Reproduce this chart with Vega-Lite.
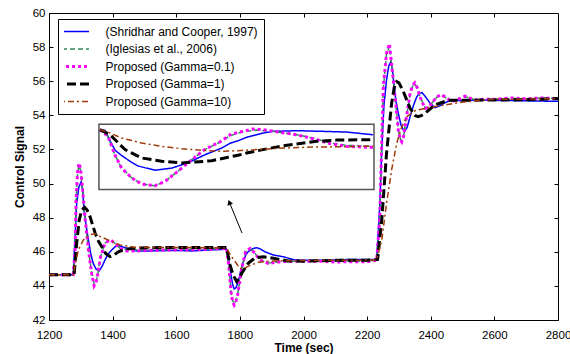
{
"$schema": "https://vega.github.io/schema/vega-lite/v6.json",
"width": 509, "height": 307, "autosize": "none",
"padding": {"left": 49, "top": 13, "right": 12, "bottom": 34},
"background": "white",
"config": {
  "view": {"stroke": "black", "strokeWidth": 1},
  "font": "Liberation Sans",
  "axis": {"labelFont": "Liberation Sans", "labelFontSize": 11.5, "labelColor": "black", "domainColor": "black", "domainWidth": 1, "tickColor": "black", "tickSize": -4, "tickWidth": 1, "grid": false, "titleFont": "Liberation Sans", "titleFontSize": 12, "titleFontWeight": "bold", "titleColor": "black", "labelFlush": false, "labelOverlap": false},
  "legend": {"orient": "none", "legendX": 9, "legendY": 6, "padding": 6, "strokeColor": "black", "fillColor": "white", "cornerRadius": 0, "symbolSize": 1225, "clipHeight": 13, "rowPadding": 4.5, "symbolOffset": 1.5, "labelOffset": 28, "labelFont": "Liberation Sans", "labelFontSize": 12, "labelColor": "black", "labelLimit": 400, "symbolType": "stroke"}
},
"datasets": {
  "names": [
    {"s": "a", "name": "(Shridhar and Cooper, 1997)"},
    {"s": "b", "name": "(Iglesias et al., 2006)"},
    {"s": "c", "name": "Proposed (Gamma=0.1)"},
    {"s": "d", "name": "Proposed (Gamma=1)"},
    {"s": "e", "name": "Proposed (Gamma=10)"}
  ],
  "box": [{"x1": 1357, "x2": 2221.6, "y1": 53.47, "y2": 49.65}],
  "arrow": [{"t": 1806.7, "v": 47.1, "t2": 1767, "v2": 48.9}],
  "lines": [
{"s":"a","p":"m","t":1200,"v":44.65},{"s":"a","p":"m","t":1276,"v":44.65},{"s":"a","p":"m","t":1281,"v":46.5},{"s":"a","p":"m","t":1287,"v":48.84},{"s":"a","p":"m","t":1294,"v":49.8},{"s":"a","p":"m","t":1301,"v":50.1},{"s":"a","p":"m","t":1306,"v":49.6},{"s":"a","p":"m","t":1310,"v":48.45},{"s":"a","p":"m","t":1317,"v":47.5},{"s":"a","p":"m","t":1324,"v":46.69},{"s":"a","p":"m","t":1331,"v":45.9},{"s":"a","p":"m","t":1339,"v":45.32},{"s":"a","p":"m","t":1348,"v":44.98},{"s":"a","p":"m","t":1358,"v":44.89},{"s":"a","p":"m","t":1367,"v":45.15},{"s":"a","p":"m","t":1376,"v":45.52},{"s":"a","p":"m","t":1387,"v":45.9},{"s":"a","p":"m","t":1397,"v":46.1},{"s":"a","p":"m","t":1408,"v":46.3},{"s":"a","p":"m","t":1418,"v":46.36},{"s":"a","p":"m","t":1430,"v":46.3},{"s":"a","p":"m","t":1444,"v":46.2},{"s":"a","p":"m","t":1476,"v":46.05},{"s":"a","p":"m","t":1520,"v":46.05},{"s":"a","p":"m","t":1600,"v":46.08},{"s":"a","p":"m","t":1650,"v":46.05},{"s":"a","p":"m","t":1700,"v":46.1},{"s":"a","p":"m","t":1758,"v":46.15},{"s":"a","p":"m","t":1764,"v":45.71},{"s":"a","p":"m","t":1772,"v":44.64},{"s":"a","p":"m","t":1777,"v":44.1},{"s":"a","p":"m","t":1782,"v":43.82},{"s":"a","p":"m","t":1788,"v":43.9},{"s":"a","p":"m","t":1795,"v":44.25},{"s":"a","p":"m","t":1803,"v":44.9},{"s":"a","p":"m","t":1811,"v":45.42},{"s":"a","p":"m","t":1818,"v":45.8},{"s":"a","p":"m","t":1826,"v":46.0},{"s":"a","p":"m","t":1840,"v":46.18},{"s":"a","p":"m","t":1853,"v":46.24},{"s":"a","p":"m","t":1866,"v":46.15},{"s":"a","p":"m","t":1879,"v":46.0},{"s":"a","p":"m","t":1905,"v":45.81},{"s":"a","p":"m","t":1936,"v":45.71},{"s":"a","p":"m","t":1973,"v":45.52},{"s":"a","p":"m","t":2000,"v":45.5},{"s":"a","p":"m","t":2050,"v":45.5},{"s":"a","p":"m","t":2100,"v":45.52},{"s":"a","p":"m","t":2150,"v":45.55},{"s":"a","p":"m","t":2200,"v":45.55},{"s":"a","p":"m","t":2230,"v":45.55},{"s":"a","p":"m","t":2240,"v":48.8},{"s":"a","p":"m","t":2246,"v":52.0},{"s":"a","p":"m","t":2253,"v":54.6},{"s":"a","p":"m","t":2261,"v":56.07},{"s":"a","p":"m","t":2268,"v":56.9},{"s":"a","p":"m","t":2275,"v":57.15},{"s":"a","p":"m","t":2280,"v":56.6},{"s":"a","p":"m","t":2285,"v":55.68},{"s":"a","p":"m","t":2291,"v":54.8},{"s":"a","p":"m","t":2298,"v":54.12},{"s":"a","p":"m","t":2307,"v":53.4},{"s":"a","p":"m","t":2317,"v":53.04},{"s":"a","p":"m","t":2326,"v":53.3},{"s":"a","p":"m","t":2335,"v":53.92},{"s":"a","p":"m","t":2346,"v":54.6},{"s":"a","p":"m","t":2356,"v":55.09},{"s":"a","p":"m","t":2364,"v":55.28},{"s":"a","p":"m","t":2373,"v":55.33},{"s":"a","p":"m","t":2385,"v":55.05},{"s":"a","p":"m","t":2398,"v":54.71},{"s":"a","p":"m","t":2413,"v":54.45},{"s":"a","p":"m","t":2428,"v":54.55},{"s":"a","p":"m","t":2445,"v":54.74},{"s":"a","p":"m","t":2460,"v":54.85},{"s":"a","p":"m","t":2476,"v":54.88},{"s":"a","p":"m","t":2500,"v":54.85},{"s":"a","p":"m","t":2550,"v":54.9},{"s":"a","p":"m","t":2600,"v":54.88},{"s":"a","p":"m","t":2700,"v":54.85},{"s":"a","p":"m","t":2800,"v":54.82},
{"s":"b","p":"m","t":1200,"v":44.65},{"s":"b","p":"m","t":1276,"v":44.65},{"s":"b","p":"m","t":1282,"v":46.1},{"s":"b","p":"m","t":1285,"v":49.0},{"s":"b","p":"m","t":1290,"v":50.6},{"s":"b","p":"m","t":1294,"v":51.05},{"s":"b","p":"m","t":1299,"v":50.8},{"s":"b","p":"m","t":1304,"v":50.0},{"s":"b","p":"m","t":1313,"v":48.06},{"s":"b","p":"m","t":1324,"v":46.1},{"s":"b","p":"m","t":1334,"v":44.8},{"s":"b","p":"m","t":1342,"v":44.1},{"s":"b","p":"m","t":1347,"v":44.2},{"s":"b","p":"m","t":1352,"v":44.54},{"s":"b","p":"m","t":1362,"v":45.71},{"s":"b","p":"m","t":1376,"v":46.5},{"s":"b","p":"m","t":1392,"v":46.7},{"s":"b","p":"m","t":1407,"v":46.5},{"s":"b","p":"m","t":1423,"v":46.2},{"s":"b","p":"m","t":1444,"v":46.1},{"s":"b","p":"m","t":1476,"v":46.1},{"s":"b","p":"m","t":1550,"v":46.12},{"s":"b","p":"m","t":1650,"v":46.15},{"s":"b","p":"m","t":1700,"v":46.15},{"s":"b","p":"m","t":1758,"v":46.2},{"s":"b","p":"m","t":1766,"v":45.03},{"s":"b","p":"m","t":1772,"v":43.7},{"s":"b","p":"m","t":1777,"v":43.15},{"s":"b","p":"m","t":1782,"v":42.95},{"s":"b","p":"m","t":1787,"v":43.1},{"s":"b","p":"m","t":1793,"v":43.5},{"s":"b","p":"m","t":1806,"v":45.03},{"s":"b","p":"m","t":1818,"v":46.0},{"s":"b","p":"m","t":1832,"v":46.18},{"s":"b","p":"m","t":1848,"v":45.9},{"s":"b","p":"m","t":1863,"v":45.52},{"s":"b","p":"m","t":1889,"v":45.34},{"s":"b","p":"m","t":1931,"v":45.42},{"s":"b","p":"m","t":1980,"v":45.45},{"s":"b","p":"m","t":2050,"v":45.45},{"s":"b","p":"m","t":2100,"v":45.45},{"s":"b","p":"m","t":2150,"v":45.45},{"s":"b","p":"m","t":2200,"v":45.45},{"s":"b","p":"m","t":2230,"v":45.5},{"s":"b","p":"m","t":2240,"v":48.0},{"s":"b","p":"m","t":2245,"v":51.8},{"s":"b","p":"m","t":2251,"v":55.6},{"s":"b","p":"m","t":2261,"v":57.6},{"s":"b","p":"m","t":2270,"v":58.05},{"s":"b","p":"m","t":2279,"v":56.66},{"s":"b","p":"m","t":2290,"v":54.71},{"s":"b","p":"m","t":2298,"v":53.14},{"s":"b","p":"m","t":2304,"v":52.65},{"s":"b","p":"m","t":2309,"v":52.5},{"s":"b","p":"m","t":2314,"v":52.72},{"s":"b","p":"m","t":2319,"v":53.33},{"s":"b","p":"m","t":2335,"v":55.25},{"s":"b","p":"m","t":2343,"v":55.7},{"s":"b","p":"m","t":2350,"v":55.85},{"s":"b","p":"m","t":2358,"v":55.6},{"s":"b","p":"m","t":2366,"v":55.09},{"s":"b","p":"m","t":2382,"v":54.45},{"s":"b","p":"m","t":2393,"v":54.48},{"s":"b","p":"m","t":2403,"v":54.71},{"s":"b","p":"m","t":2420,"v":55.08},{"s":"b","p":"m","t":2434,"v":55.2},{"s":"b","p":"m","t":2450,"v":55.0},{"s":"b","p":"m","t":2466,"v":54.82},{"s":"b","p":"m","t":2487,"v":54.95},{"s":"b","p":"m","t":2508,"v":55.1},{"s":"b","p":"m","t":2525,"v":55.0},{"s":"b","p":"m","t":2539,"v":54.92},{"s":"b","p":"m","t":2570,"v":54.95},{"s":"b","p":"m","t":2602,"v":54.95},{"s":"b","p":"m","t":2650,"v":55.0},{"s":"b","p":"m","t":2700,"v":54.96},{"s":"b","p":"m","t":2750,"v":55.02},{"s":"b","p":"m","t":2800,"v":55.0},
{"s":"c","p":"m","t":1200,"v":44.65},{"s":"c","p":"m","t":1276,"v":44.65},{"s":"c","p":"m","t":1282,"v":46.1},{"s":"c","p":"m","t":1285,"v":49.0},{"s":"c","p":"m","t":1290,"v":50.7},{"s":"c","p":"m","t":1294,"v":51.2},{"s":"c","p":"m","t":1299,"v":50.9},{"s":"c","p":"m","t":1304,"v":50.0},{"s":"c","p":"m","t":1313,"v":48.06},{"s":"c","p":"m","t":1324,"v":46.1},{"s":"c","p":"m","t":1334,"v":44.74},{"s":"c","p":"m","t":1342,"v":44.0},{"s":"c","p":"m","t":1347,"v":44.15},{"s":"c","p":"m","t":1352,"v":44.54},{"s":"c","p":"m","t":1362,"v":45.71},{"s":"c","p":"m","t":1376,"v":46.5},{"s":"c","p":"m","t":1392,"v":46.72},{"s":"c","p":"m","t":1407,"v":46.5},{"s":"c","p":"m","t":1423,"v":46.2},{"s":"c","p":"m","t":1444,"v":46.05},{"s":"c","p":"m","t":1476,"v":46.05},{"s":"c","p":"m","t":1550,"v":46.1},{"s":"c","p":"m","t":1650,"v":46.12},{"s":"c","p":"m","t":1700,"v":46.15},{"s":"c","p":"m","t":1758,"v":46.2},{"s":"c","p":"m","t":1766,"v":45.03},{"s":"c","p":"m","t":1772,"v":43.66},{"s":"c","p":"m","t":1777,"v":43.1},{"s":"c","p":"m","t":1782,"v":42.88},{"s":"c","p":"m","t":1787,"v":43.05},{"s":"c","p":"m","t":1793,"v":43.47},{"s":"c","p":"m","t":1806,"v":45.03},{"s":"c","p":"m","t":1818,"v":46.0},{"s":"c","p":"m","t":1832,"v":46.2},{"s":"c","p":"m","t":1848,"v":45.9},{"s":"c","p":"m","t":1863,"v":45.52},{"s":"c","p":"m","t":1889,"v":45.32},{"s":"c","p":"m","t":1931,"v":45.42},{"s":"c","p":"m","t":1980,"v":45.45},{"s":"c","p":"m","t":2050,"v":45.45},{"s":"c","p":"m","t":2100,"v":45.4},{"s":"c","p":"m","t":2150,"v":45.42},{"s":"c","p":"m","t":2200,"v":45.42},{"s":"c","p":"m","t":2230,"v":45.5},{"s":"c","p":"m","t":2240,"v":48.0},{"s":"c","p":"m","t":2245,"v":51.8},{"s":"c","p":"m","t":2251,"v":55.68},{"s":"c","p":"m","t":2261,"v":57.64},{"s":"c","p":"m","t":2270,"v":58.2},{"s":"c","p":"m","t":2279,"v":56.66},{"s":"c","p":"m","t":2290,"v":54.71},{"s":"c","p":"m","t":2298,"v":53.14},{"s":"c","p":"m","t":2304,"v":52.6},{"s":"c","p":"m","t":2309,"v":52.45},{"s":"c","p":"m","t":2314,"v":52.7},{"s":"c","p":"m","t":2319,"v":53.33},{"s":"c","p":"m","t":2335,"v":55.29},{"s":"c","p":"m","t":2343,"v":55.75},{"s":"c","p":"m","t":2350,"v":55.9},{"s":"c","p":"m","t":2358,"v":55.6},{"s":"c","p":"m","t":2366,"v":55.09},{"s":"c","p":"m","t":2382,"v":54.41},{"s":"c","p":"m","t":2393,"v":54.45},{"s":"c","p":"m","t":2403,"v":54.71},{"s":"c","p":"m","t":2420,"v":55.1},{"s":"c","p":"m","t":2434,"v":55.22},{"s":"c","p":"m","t":2450,"v":55.0},{"s":"c","p":"m","t":2466,"v":54.8},{"s":"c","p":"m","t":2487,"v":54.95},{"s":"c","p":"m","t":2508,"v":55.13},{"s":"c","p":"m","t":2525,"v":55.0},{"s":"c","p":"m","t":2539,"v":54.9},{"s":"c","p":"m","t":2570,"v":54.95},{"s":"c","p":"m","t":2602,"v":54.94},{"s":"c","p":"m","t":2650,"v":55.02},{"s":"c","p":"m","t":2700,"v":54.97},{"s":"c","p":"m","t":2750,"v":55.02},{"s":"c","p":"m","t":2800,"v":54.98},
{"s":"d","p":"m","t":1200,"v":44.65},{"s":"d","p":"m","t":1279,"v":44.65},{"s":"d","p":"m","t":1287,"v":46.5},{"s":"d","p":"m","t":1295,"v":47.86},{"s":"d","p":"m","t":1303,"v":48.45},{"s":"d","p":"m","t":1312,"v":48.6},{"s":"d","p":"m","t":1320,"v":48.45},{"s":"d","p":"m","t":1329,"v":48.06},{"s":"d","p":"m","t":1345,"v":47.1},{"s":"d","p":"m","t":1356,"v":46.6},{"s":"d","p":"m","t":1366,"v":46.3},{"s":"d","p":"m","t":1378,"v":45.9},{"s":"d","p":"m","t":1392,"v":45.72},{"s":"d","p":"m","t":1405,"v":45.82},{"s":"d","p":"m","t":1418,"v":46.0},{"s":"d","p":"m","t":1444,"v":46.17},{"s":"d","p":"m","t":1486,"v":46.22},{"s":"d","p":"m","t":1550,"v":46.25},{"s":"d","p":"m","t":1650,"v":46.25},{"s":"d","p":"m","t":1758,"v":46.25},{"s":"d","p":"m","t":1769,"v":45.23},{"s":"d","p":"m","t":1779,"v":44.64},{"s":"d","p":"m","t":1790,"v":44.25},{"s":"d","p":"m","t":1797,"v":44.4},{"s":"d","p":"m","t":1806,"v":44.74},{"s":"d","p":"m","t":1826,"v":45.32},{"s":"d","p":"m","t":1848,"v":45.65},{"s":"d","p":"m","t":1874,"v":45.71},{"s":"d","p":"m","t":1905,"v":45.62},{"s":"d","p":"m","t":1952,"v":45.46},{"s":"d","p":"m","t":2000,"v":45.45},{"s":"d","p":"m","t":2100,"v":45.5},{"s":"d","p":"m","t":2200,"v":45.5},{"s":"d","p":"m","t":2233,"v":45.55},{"s":"d","p":"m","t":2246,"v":47.86},{"s":"d","p":"m","t":2261,"v":51.77},{"s":"d","p":"m","t":2277,"v":54.71},{"s":"d","p":"m","t":2285,"v":55.6},{"s":"d","p":"m","t":2293,"v":55.97},{"s":"d","p":"m","t":2300,"v":55.9},{"s":"d","p":"m","t":2314,"v":55.39},{"s":"d","p":"m","t":2335,"v":54.41},{"s":"d","p":"m","t":2350,"v":54.0},{"s":"d","p":"m","t":2360,"v":53.92},{"s":"d","p":"m","t":2370,"v":53.98},{"s":"d","p":"m","t":2382,"v":54.12},{"s":"d","p":"m","t":2413,"v":54.61},{"s":"d","p":"m","t":2455,"v":54.88},{"s":"d","p":"m","t":2500,"v":54.88},{"s":"d","p":"m","t":2600,"v":54.9},{"s":"d","p":"m","t":2700,"v":54.92},{"s":"d","p":"m","t":2800,"v":54.98},
{"s":"e","p":"m","t":1200,"v":44.65},{"s":"e","p":"m","t":1276,"v":44.65},{"s":"e","p":"m","t":1292,"v":46.1},{"s":"e","p":"m","t":1308,"v":46.69},{"s":"e","p":"m","t":1329,"v":47.0},{"s":"e","p":"m","t":1345,"v":47.06},{"s":"e","p":"m","t":1360,"v":46.9},{"s":"e","p":"m","t":1392,"v":46.65},{"s":"e","p":"m","t":1423,"v":46.4},{"s":"e","p":"m","t":1476,"v":46.25},{"s":"e","p":"m","t":1550,"v":46.25},{"s":"e","p":"m","t":1650,"v":46.25},{"s":"e","p":"m","t":1758,"v":46.22},{"s":"e","p":"m","t":1774,"v":45.71},{"s":"e","p":"m","t":1790,"v":45.3},{"s":"e","p":"m","t":1800,"v":45.02},{"s":"e","p":"m","t":1815,"v":45.05},{"s":"e","p":"m","t":1832,"v":45.2},{"s":"e","p":"m","t":1858,"v":45.38},{"s":"e","p":"m","t":1895,"v":45.46},{"s":"e","p":"m","t":1950,"v":45.47},{"s":"e","p":"m","t":2050,"v":45.5},{"s":"e","p":"m","t":2150,"v":45.5},{"s":"e","p":"m","t":2230,"v":45.52},{"s":"e","p":"m","t":2246,"v":46.69},{"s":"e","p":"m","t":2261,"v":48.84},{"s":"e","p":"m","t":2277,"v":50.8},{"s":"e","p":"m","t":2293,"v":52.36},{"s":"e","p":"m","t":2309,"v":53.33},{"s":"e","p":"m","t":2325,"v":53.92},{"s":"e","p":"m","t":2350,"v":54.27},{"s":"e","p":"m","t":2382,"v":54.41},{"s":"e","p":"m","t":2424,"v":54.55},{"s":"e","p":"m","t":2476,"v":54.71},{"s":"e","p":"m","t":2539,"v":54.86},{"s":"e","p":"m","t":2602,"v":54.94},{"s":"e","p":"m","t":2700,"v":54.95},{"s":"e","p":"m","t":2800,"v":54.98},
{"s":"a","p":"i","t":1360,"v":53.16},{"s":"a","p":"i","t":1376,"v":53.12},{"s":"a","p":"i","t":1392,"v":52.5},{"s":"a","p":"i","t":1408,"v":51.95},{"s":"a","p":"i","t":1428,"v":51.65},{"s":"a","p":"i","t":1455,"v":51.3},{"s":"a","p":"i","t":1480,"v":51.03},{"s":"a","p":"i","t":1533,"v":50.78},{"s":"a","p":"i","t":1586,"v":50.91},{"s":"a","p":"i","t":1637,"v":51.21},{"s":"a","p":"i","t":1690,"v":51.69},{"s":"a","p":"i","t":1743,"v":52.08},{"s":"a","p":"i","t":1769,"v":52.36},{"s":"a","p":"i","t":1794,"v":52.51},{"s":"a","p":"i","t":1821,"v":52.71},{"s":"a","p":"i","t":1873,"v":52.96},{"s":"a","p":"i","t":1904,"v":53.06},{"s":"a","p":"i","t":1979,"v":53.1},{"s":"a","p":"i","t":2061,"v":53.06},{"s":"a","p":"i","t":2136,"v":53.02},{"s":"a","p":"i","t":2218,"v":52.86},
{"s":"b","p":"i","t":1360,"v":53.16},{"s":"b","p":"i","t":1385,"v":52.79},{"s":"b","p":"i","t":1407,"v":51.69},{"s":"b","p":"i","t":1428,"v":50.91},{"s":"b","p":"i","t":1460,"v":50.33},{"s":"b","p":"i","t":1491,"v":49.97},{"s":"b","p":"i","t":1533,"v":49.87},{"s":"b","p":"i","t":1565,"v":50.13},{"s":"b","p":"i","t":1605,"v":50.72},{"s":"b","p":"i","t":1649,"v":51.4},{"s":"b","p":"i","t":1690,"v":51.99},{"s":"b","p":"i","t":1743,"v":52.48},{"s":"b","p":"i","t":1769,"v":52.8},{"s":"b","p":"i","t":1794,"v":52.96},{"s":"b","p":"i","t":1810,"v":53.04},{"s":"b","p":"i","t":1853,"v":53.14},{"s":"b","p":"i","t":1904,"v":53.06},{"s":"b","p":"i","t":1979,"v":52.86},{"s":"b","p":"i","t":2041,"v":52.62},{"s":"b","p":"i","t":2083,"v":52.38},{"s":"b","p":"i","t":2136,"v":52.24},{"s":"b","p":"i","t":2218,"v":52.18},
{"s":"c","p":"i","t":1360,"v":53.16},{"s":"c","p":"i","t":1385,"v":52.79},{"s":"c","p":"i","t":1407,"v":51.69},{"s":"c","p":"i","t":1428,"v":50.91},{"s":"c","p":"i","t":1460,"v":50.33},{"s":"c","p":"i","t":1491,"v":49.97},{"s":"c","p":"i","t":1533,"v":49.87},{"s":"c","p":"i","t":1565,"v":50.13},{"s":"c","p":"i","t":1605,"v":50.72},{"s":"c","p":"i","t":1649,"v":51.4},{"s":"c","p":"i","t":1690,"v":52.0},{"s":"c","p":"i","t":1743,"v":52.5},{"s":"c","p":"i","t":1769,"v":52.86},{"s":"c","p":"i","t":1794,"v":53.0},{"s":"c","p":"i","t":1841,"v":53.2},{"s":"c","p":"i","t":1880,"v":53.14},{"s":"c","p":"i","t":1979,"v":52.86},{"s":"c","p":"i","t":2041,"v":52.58},{"s":"c","p":"i","t":2083,"v":52.34},{"s":"c","p":"i","t":2136,"v":52.18},{"s":"c","p":"i","t":2218,"v":52.12},
{"s":"d","p":"i","t":1360,"v":53.16},{"s":"d","p":"i","t":1392,"v":52.86},{"s":"d","p":"i","t":1439,"v":51.99},{"s":"d","p":"i","t":1491,"v":51.5},{"s":"d","p":"i","t":1554,"v":51.31},{"s":"d","p":"i","t":1617,"v":51.21},{"s":"d","p":"i","t":1659,"v":51.26},{"s":"d","p":"i","t":1711,"v":51.34},{"s":"d","p":"i","t":1763,"v":51.54},{"s":"d","p":"i","t":1794,"v":51.66},{"s":"d","p":"i","t":1821,"v":51.79},{"s":"d","p":"i","t":1873,"v":51.99},{"s":"d","p":"i","t":1926,"v":52.18},{"s":"d","p":"i","t":1979,"v":52.32},{"s":"d","p":"i","t":2041,"v":52.48},{"s":"d","p":"i","t":2104,"v":52.55},{"s":"d","p":"i","t":2218,"v":52.57},
{"s":"e","p":"i","t":1360,"v":53.16},{"s":"e","p":"i","t":1385,"v":53.02},{"s":"e","p":"i","t":1428,"v":52.67},{"s":"e","p":"i","t":1491,"v":52.38},{"s":"e","p":"i","t":1554,"v":52.18},{"s":"e","p":"i","t":1617,"v":52.04},{"s":"e","p":"i","t":1680,"v":51.95},{"s":"e","p":"i","t":1743,"v":51.89},{"s":"e","p":"i","t":1794,"v":51.93},{"s":"e","p":"i","t":1853,"v":51.99},{"s":"e","p":"i","t":1936,"v":52.08},{"s":"e","p":"i","t":2030,"v":52.14},{"s":"e","p":"i","t":2136,"v":52.16},{"s":"e","p":"i","t":2218,"v":52.2}
  ]
},
"layer": [
  {
    "data": {"name": "lines"},
    "transform": [
      {"filter": "datum.p == 'm'"},
      {"lookup": "s", "from": {"data": {"name": "names"}, "key": "s", "fields": ["name"]}}
    ],
    "mark": {"type": "line", "strokeCap": "butt"},
    "encoding": {
      "x": {"field": "t", "type": "quantitative", "scale": {"domain": [1200, 2800], "nice": false, "zero": false},
            "axis": {"orient": "bottom", "format": "d", "values": [1200, 1400, 1600, 1800, 2000, 2200, 2400, 2600, 2800], "title": "Time (sec)", "labelPadding": 13, "titlePadding": 2}},
      "y": {"field": "v", "type": "quantitative", "scale": {"domain": [42, 60], "nice": false, "zero": false},
            "axis": {"orient": "left", "values": [42, 44, 46, 48, 50, 52, 54, 56, 58, 60], "title": "Control Signal", "labelPadding": 8, "titlePadding": 6}},
      "color": {"field": "name", "type": "nominal",
                "scale": {"domain": ["(Shridhar and Cooper, 1997)", "(Iglesias et al., 2006)", "Proposed (Gamma=0.1)", "Proposed (Gamma=1)", "Proposed (Gamma=10)"],
                          "range": ["#0000ff", "#2e8b57", "#ff00ff", "#000000", "#a03c0a"]},
                "legend": {"title": null, "encode": {"symbols": {"update": {"strokeWidth": {"signal": "datum.value == 'Proposed (Gamma=0.1)' || datum.value == 'Proposed (Gamma=1)' ? 3 : 1.5"}}}}}},
      "strokeDash": {"field": "name", "type": "nominal",
                "scale": {"domain": ["(Shridhar and Cooper, 1997)", "(Iglesias et al., 2006)", "Proposed (Gamma=0.1)", "Proposed (Gamma=1)", "Proposed (Gamma=10)"],
                          "range": [[1, 0], [5, 3], [3, 3], [9, 4], [6, 3, 2, 3]]},
                "legend": {"title": null}},
      "strokeWidth": {"condition": {"test": "datum.s == 'c' || datum.s == 'd'", "value": 3}, "value": 1.5}
    }
  },
  {
    "data": {"name": "box"},
    "mark": {"type": "rect", "fill": "white", "stroke": "#555555", "strokeWidth": 1.5},
    "encoding": {
      "x": {"field": "x1", "type": "quantitative", "scale": {"domain": [1200, 2800], "nice": false, "zero": false}, "axis": null},
      "x2": {"field": "x2"},
      "y": {"field": "y1", "type": "quantitative", "scale": {"domain": [42, 60], "nice": false, "zero": false}, "axis": null},
      "y2": {"field": "y2"}
    }
  },
  {
    "data": {"name": "lines"},
    "transform": [
      {"filter": "datum.p == 'i'"},
      {"lookup": "s", "from": {"data": {"name": "names"}, "key": "s", "fields": ["name"]}}
    ],
    "mark": {"type": "line", "strokeCap": "butt"},
    "encoding": {
      "x": {"field": "t", "type": "quantitative", "scale": {"domain": [1200, 2800], "nice": false, "zero": false}, "axis": null},
      "y": {"field": "v", "type": "quantitative", "scale": {"domain": [42, 60], "nice": false, "zero": false}, "axis": null},
      "color": {"field": "name", "type": "nominal",
                "scale": {"domain": ["(Shridhar and Cooper, 1997)", "(Iglesias et al., 2006)", "Proposed (Gamma=0.1)", "Proposed (Gamma=1)", "Proposed (Gamma=10)"],
                          "range": ["#0000ff", "#2e8b57", "#ff00ff", "#000000", "#a03c0a"]},
                "legend": {"title": null, "encode": {"symbols": {"update": {"strokeWidth": {"signal": "datum.value == 'Proposed (Gamma=0.1)' || datum.value == 'Proposed (Gamma=1)' ? 3 : 1.5"}}}}}},
      "strokeDash": {"field": "name", "type": "nominal",
                "scale": {"domain": ["(Shridhar and Cooper, 1997)", "(Iglesias et al., 2006)", "Proposed (Gamma=0.1)", "Proposed (Gamma=1)", "Proposed (Gamma=10)"],
                          "range": [[1, 0], [5, 3], [3, 3], [9, 4], [6, 3, 2, 3]]},
                "legend": {"title": null}},
      "strokeWidth": {"condition": {"test": "datum.s == 'c' || datum.s == 'd'", "value": 3}, "value": 1.5}
    }
  },
  {
    "data": {"name": "arrow"},
    "mark": {"type": "rule", "color": "black", "strokeWidth": 1},
    "encoding": {
      "x": {"field": "t", "type": "quantitative", "scale": {"domain": [1200, 2800], "nice": false, "zero": false},
            "axis": {"orient": "top", "values": [1400, 1600, 1800, 2000, 2200, 2400, 2600], "labels": false, "title": null, "domain": false}},
      "x2": {"field": "t2"},
      "y": {"field": "v", "type": "quantitative", "scale": {"domain": [42, 60], "nice": false, "zero": false},
            "axis": {"orient": "right", "values": [44, 46, 48, 50, 52, 54, 56, 58], "labels": false, "title": null, "domain": false}},
      "y2": {"field": "v2"}
    }
  },
  {
    "data": {"name": "arrow"},
    "mark": {"type": "point", "shape": "triangle-up", "filled": true, "color": "black", "opacity": 1, "size": 35, "angle": -19.4},
    "encoding": {
      "x": {"field": "t2", "type": "quantitative", "scale": {"domain": [1200, 2800], "nice": false, "zero": false}, "axis": null},
      "y": {"field": "v2", "type": "quantitative", "scale": {"domain": [42, 60], "nice": false, "zero": false}, "axis": null}
    }
  }
]
}
